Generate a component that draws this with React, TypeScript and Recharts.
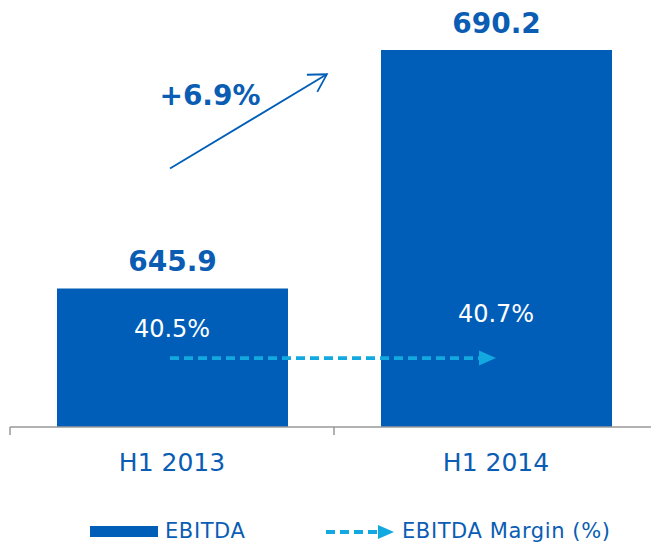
import React from "react";
import { BarChart, Bar, Line, XAxis, YAxis, LabelList, ReferenceLine, Legend } from "recharts";

const categories = ["H1 2013", "H1 2014"];
const ebitda = [645.9, 690.2];
const marginPct = [40.5, 40.7];

// annotation levels, in EBITDA units
const marginArrowLevel = 633;
const growthArrowLevels = [668.2, 685.7];

const data = categories.map((period, i) => ({
  period,
  ebitda: ebitda[i],
  margin: marginPct[i],
}));

const growth = ((ebitda[1] / ebitda[0] - 1) * 100).toFixed(1);

const BLUE = "#005EB8";
const TEXT = "#0A5DB3";
const CYAN = "#12A9E0";
const FONT = "'DejaVu Sans', Verdana, sans-serif";

const W = 658;
const H = 542;
const LEFT = 10;
const HALF_BAND = (W - LEFT) / categories.length / 2;

function AxisTick(props: any) {
  const { x, y, payload } = props;
  return (
    <g>
      <line x1={x - HALF_BAND} x2={x - HALF_BAND} y1={y} y2={y + 8} stroke="#999" strokeWidth={1.5} />
      <text x={x} y={y + 35} textAnchor="middle" dominantBaseline="central" fontSize={25} fill={TEXT} fontFamily={FONT}>
        {payload.value}
      </text>
    </g>
  );
}

function ValueLabel(props: any) {
  const { x, y, width, value } = props;
  return (
    <text x={x + width / 2} y={y - 27} textAnchor="middle" dominantBaseline="central" fontSize={28} fontWeight="bold" fill={TEXT} fontFamily={FONT}>
      {value}
    </text>
  );
}

function MarginLabel(props: any) {
  const { x, y, value } = props;
  return (
    <text x={x} y={y} textAnchor="middle" dominantBaseline="central" fontSize={24} fill="#fff" fontFamily={FONT}>
      {value}%
    </text>
  );
}

function MarginArrow(props: any) {
  const { x1, y1, x2, y2 } = props;
  return (
    <g>
      <line x1={x1 - 2} y1={y1} x2={x2 - 15} y2={y2} stroke={CYAN} strokeWidth={3.8} strokeDasharray="9 5" />
      <polygon points={`${x2},${y2} ${x2 - 17},${y2 - 7.5} ${x2 - 17},${y2 + 7.5}`} fill={CYAN} />
    </g>
  );
}

function GrowthArrow(props: any) {
  const { x1, y1, x2, y2 } = props;
  const ex = x1 + (x2 - x1) * 0.478;
  const ang = Math.atan2(y2 - y1, ex - x1);
  const arm = 20;
  const a1 = ang + Math.PI - Math.PI / 6;
  const a2 = ang + Math.PI + Math.PI / 6;
  return (
    <g>
      <line x1={x1 - 2} y1={y1} x2={ex} y2={y2} stroke={BLUE} strokeWidth={1.8} />
      <polyline
        points={`${ex + arm * Math.cos(a1)},${y2 + arm * Math.sin(a1)} ${ex},${y2} ${ex + arm * Math.cos(a2)},${y2 + arm * Math.sin(a2)}`}
        fill="none"
        stroke={BLUE}
        strokeWidth={1.8}
      />
      <text x={x1 + 38} y={y2 + 21} textAnchor="middle" dominantBaseline="central" fontSize={28} fontWeight="bold" fill={TEXT} fontFamily={FONT}>
        +{growth}%
      </text>
    </g>
  );
}

function LegendContent() {
  return (
    <div style={{ position: "relative", width: 651, height: 40, fontFamily: FONT, fontSize: 21, letterSpacing: 0.6, color: TEXT }}>
      <div style={{ position: "absolute", left: 90, top: 24, width: 68, height: 11, background: BLUE }} />
      <span style={{ position: "absolute", left: 165, top: 17, lineHeight: "24px" }}>EBITDA</span>
      <svg style={{ position: "absolute", left: 324, top: 21 }} width={72} height={18}>
        <line x1={2} y1={9} x2={56} y2={9} stroke={CYAN} strokeWidth={3.8} strokeDasharray="9 5" />
        <polygon points="70,9 54,2 54,16" fill={CYAN} />
      </svg>
      <span style={{ position: "absolute", left: 402, top: 17, lineHeight: "24px" }}>EBITDA Margin (%)</span>
    </div>
  );
}

export default function App() {
  return (
    <div style={{ position: "fixed", left: 0, top: 0, width: 651, height: H, overflow: "hidden", background: "#fff" }}>
      <BarChart width={W} height={H} data={data} margin={{ top: 0, right: 0, left: LEFT, bottom: 0 }}>
        <XAxis
          dataKey="period"
          tick={<AxisTick />}
          tickLine={false}
          tickSize={0}
          tickMargin={0}
          height={75}
          axisLine={{ stroke: "#999", strokeWidth: 1.5 }}
          interval={0}
        />
        <YAxis yAxisId="left" domain={[620.2, 699.5]} hide allowDataOverflow />
        <YAxis yAxisId="margin" domain={[39.193, 44.873]} hide allowDataOverflow />
        <Bar yAxisId="left" dataKey="ebitda" fill={BLUE} barSize={231} isAnimationActive={false}>
          <LabelList dataKey="ebitda" content={<ValueLabel />} />
        </Bar>
        <ReferenceLine
          yAxisId="left"
          segment={[
            { x: categories[0], y: marginArrowLevel },
            { x: categories[1], y: marginArrowLevel },
          ]}
          shape={(p: any) => <MarginArrow {...p} />}
          ifOverflow="visible"
        />
        <ReferenceLine
          yAxisId="left"
          segment={[
            { x: categories[0], y: growthArrowLevels[0] },
            { x: categories[1], y: growthArrowLevels[1] },
          ]}
          shape={(p: any) => <GrowthArrow {...p} />}
          ifOverflow="visible"
        />
        <Line
          yAxisId="margin"
          dataKey="margin"
          stroke="none"
          dot={false}
          activeDot={false}
          isAnimationActive={false}
        >
          <LabelList dataKey="margin" content={<MarginLabel />} />
        </Line>
        <Legend
          verticalAlign="bottom"
          height={40}
          content={<LegendContent />}
          wrapperStyle={{ left: 0, width: 651, bottom: 0 }}
        />
      </BarChart>
    </div>
  );
}
